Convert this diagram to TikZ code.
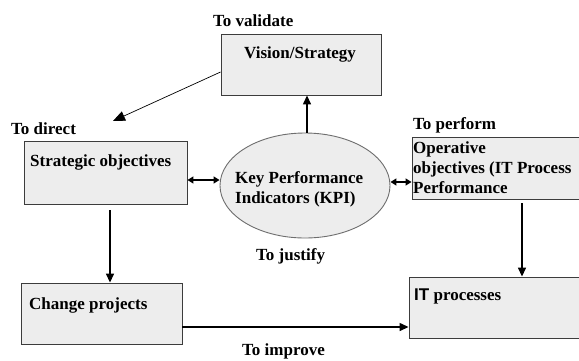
\documentclass[tikz,border=0pt]{standalone}
\usepackage{fontspec}
\setmainfont{Liberation Serif}
\newfontfamily\arialfont{Liberation Sans}
\usetikzlibrary{arrows.meta,calc,shapes.geometric}
\definecolor{boxfill}{HTML}{EDEDED}
\definecolor{boxline}{HTML}{3C3C3C}
\definecolor{ovalline}{HTML}{6E6E6E}
\tikzset{
  box/.style={draw=boxline, line width=0.9pt, fill=boxfill, rectangle, inner sep=0pt},
  oval/.style={draw=ovalline, line width=0.9pt, fill=boxfill, ellipse, inner sep=0pt},
  txt/.style={anchor=base west, inner sep=0pt, font=\fontsize{17}{20}\selectfont\bfseries},
  link/.style={line width=1.4pt, -{Triangle[length=9pt,width=8pt]}},
  twoway/.style={line width=1.4pt, {Triangle[length=6pt,width=7pt]}-{Triangle[length=6pt,width=7pt]}},
  thin link/.style={line width=0.7pt, -{Triangle[length=12pt,width=10pt]}}
}
\begin{document}
\begin{tikzpicture}[x=1pt,y=-1pt]
\useasboundingbox (0,0) rectangle (579,360);
\clip (0,0) rectangle (579,360);
\fill[white] (0,0) rectangle (579,360);

% boxes
\node[box, minimum width=160pt, minimum height=61pt] (vis) at (301,64.5) {};
\node[box, minimum width=163pt, minimum height=63pt] (strat) at (105.5,172.5) {};
\node[box, minimum width=161pt, minimum height=61pt] (change) at (101.5,313.5) {};
\node[box, minimum width=188pt, minimum height=62pt] (oper) at (506,168) {};
\node[box, minimum width=191pt, minimum height=61pt] (itp) at (504.5,307.5) {};
\node[oval, minimum width=170pt, minimum height=105pt] (kpi) at (305,185.5) {};

% box texts
\node[txt] (vist) at (244,58) {Vision/Strategy};
\node[txt] (stratt) at (30,166) {Strategic objectives};
\node[txt] (changet) at (29,309) {Change projects};
\node[txt] (itpt) at (414,300) {{\arialfont IT} processes};
\node[txt] (opert1) at (413,153) {Operative};
\node[txt] (opert2) at (413,173) {objectives (IT Process};
\node[txt] (opert3) at (413,193) {Performance};
\node[txt] (kpit1) at (235,183) {Key Performance};
\node[txt] (kpit2) at (235,203) {Indicators (KPI)};

% free labels
\node[txt] (lvalidate) at (213,26) {To validate};
\node[txt] (ldirect) at (11,134) {To direct};
\node[txt] (lperform) at (413,129) {To perform};
\node[txt] (ljustify) at (256,260) {To justify};
\node[txt] (limprove) at (242,355) {To improve};

% connectors
\coordinate (directtip) at (113,121);
\draw[thin link] ($(vis.west)+(0,7.5)$) -- (directtip);
\draw[link] (kpi.north -| 307,0) -- (vis.south -| 307,0);
\draw[twoway] (strat.east |- 0,180) -- (kpi.west |- 0,180);
\draw[twoway] (kpi.east |- 0,182) -- (oper.west |- 0,182);
\draw[link] ($(strat.south -| 110,0)+(0,6)$) -- (change.north -| 110,0);
\draw[link] ($(oper.south -| 522,0)+(0,4)$) -- (itp.north -| 522,0);
\draw[link] (change.east |- 0,327) -- (itp.west |- 0,327);
\end{tikzpicture}
\end{document}
